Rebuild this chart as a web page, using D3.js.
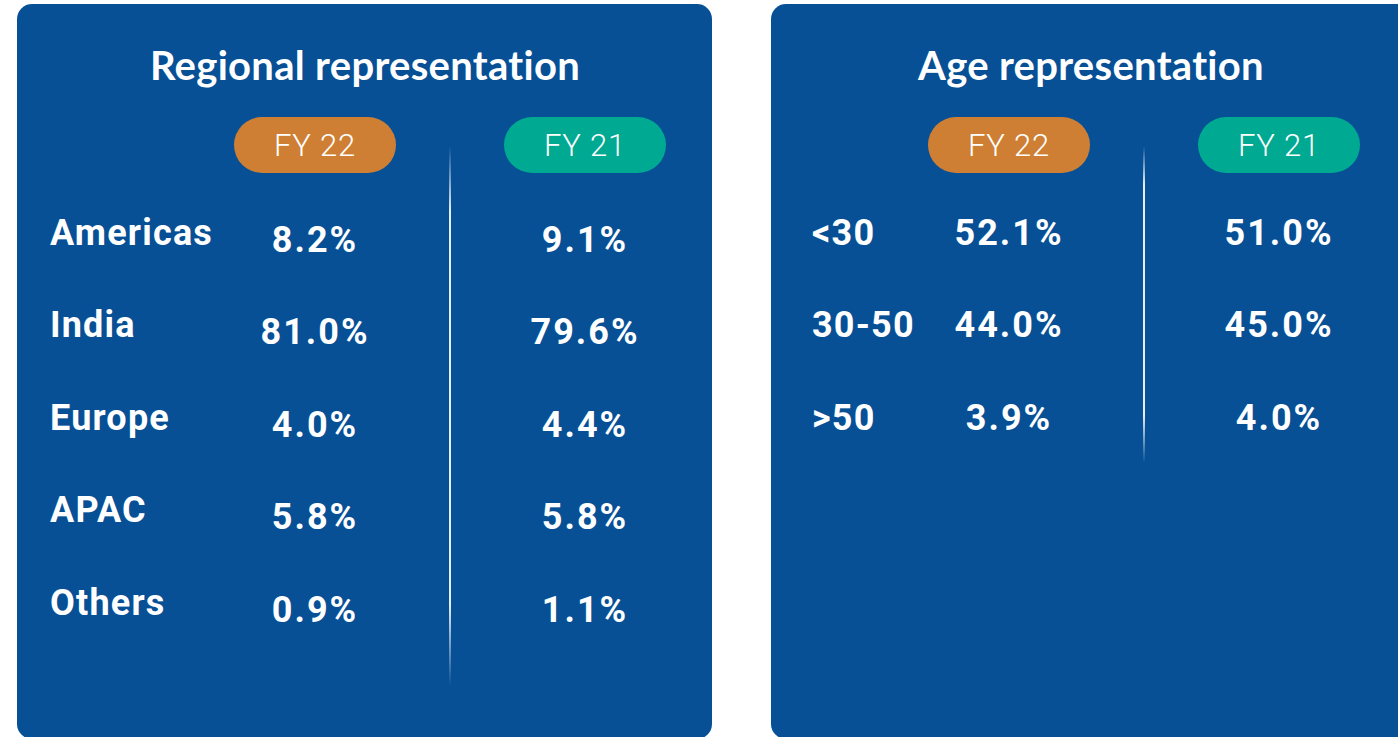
<!DOCTYPE html>
<html>
<head>
<meta charset="utf-8">
<script src="https://cdn.jsdelivr.net/npm/d3@7"></script>
<style>
  html, body { margin: 0; padding: 0; background: #fff; }
  svg { display: block; }
</style>
</head>
<body>
<svg id="chart"></svg>
<script>
// ── data ────────────────────────────────────────────────────────────────
const years = ['FY 22', 'FY 21'];

const regions    = ['Americas', 'India', 'Europe', 'APAC', 'Others'];
const regionFY22 = ['8.2%', '81.0%', '4.0%', '5.8%', '0.9%'];
const regionFY21 = ['9.1%', '79.6%', '4.4%', '5.8%', '1.1%'];

const ages    = ['<30', '30-50', '>50'];
const ageFY22 = ['52.1%', '44.0%', '3.9%'];
const ageFY21 = ['51.0%', '45.0%', '4.0%'];

const W = 1398, H = 737;
const COLORS = {
  panel: '#075096',
  pill:  { 'FY 22': '#CE7F34', 'FY 21': '#00A991' },
  text:  '#ffffff',
};
const ROW_STEP = 92.5;

const svg = d3.select('#chart').attr('width', W).attr('height', H);

// vertical divider that fades at both ends
const grad = svg.append('defs').append('linearGradient')
  .attr('id', 'divider').attr('x1', 0).attr('x2', 0).attr('y1', 0).attr('y2', 1);
grad.append('stop').attr('offset', '0%').attr('stop-color', '#fff').attr('stop-opacity', 0);
grad.append('stop').attr('offset', '12%').attr('stop-color', '#fff').attr('stop-opacity', 0.9);
grad.append('stop').attr('offset', '85%').attr('stop-color', '#fff').attr('stop-opacity', 0.9);
grad.append('stop').attr('offset', '100%').attr('stop-color', '#fff').attr('stop-opacity', 0);

function drawPanel(cfg) {
  const { x0, x1, title, labels, vals22, vals21, labelX, colX, dividerX, dividerY1, valueDy } = cfg;
  const g = svg.append('g');

  // panel bottom sits just below the viewport, so only the top of the lower corners shows
  g.append('rect')
    .attr('x', x0).attr('y', 4)
    .attr('width', x1 - x0).attr('height', 735)
    .attr('rx', 15)
    .attr('fill', COLORS.panel);

  g.append('text')
    .attr('x', (cfg.titleX)).attr('y', 80)
    .attr('text-anchor', 'middle')
    .attr('font-family', 'Lato, "Open Sans", sans-serif')
    .attr('font-weight', 700)
    .attr('font-size', 40)
    .attr('letter-spacing', 0.3)
    .attr('fill', COLORS.text)
    .text(title);

  // columns
  const x = d3.scaleOrdinal().domain(years).range(colX);
  const pillW = 162, pillH = 56;
  const pills = g.selectAll('g.pill').data(years).join('g').attr('class', 'pill')
    .attr('transform', d => `translate(${x(d)}, 145)`);
  pills.append('rect')
    .attr('x', -pillW / 2).attr('y', -pillH / 2)
    .attr('width', pillW).attr('height', pillH)
    .attr('rx', pillH / 2)
    .attr('fill', d => COLORS.pill[d]);
  pills.append('text')
    .attr('text-anchor', 'middle').attr('dy', '0.36em')
    .attr('font-family', 'Roboto, sans-serif')
    .attr('font-weight', 300)
    .attr('font-size', 31)
    .attr('letter-spacing', 0.8)
    .attr('fill', COLORS.text)
    .text(d => d);

  // divider
  g.append('rect')
    .attr('x', dividerX - 1).attr('y', 146)
    .attr('width', 2).attr('height', dividerY1 - 146)
    .attr('fill', 'url(#divider)');

  // rows
  const y = d3.scalePoint().domain(labels)
    .range([232, 232 + ROW_STEP * (labels.length - 1)]);

  g.selectAll('text.label').data(labels).join('text').attr('class', 'label')
    .attr('x', labelX).attr('y', d => y(d)).attr('dy', '0.36em')
    .attr('font-family', 'Roboto, sans-serif')
    .attr('font-weight', 700)
    .attr('font-size', 36)
    .attr('letter-spacing', 1.2)
    .attr('fill', COLORS.text)
    .text(d => d);

  const rows = labels.map((l, i) => ({ label: l, vals: [vals22[i], vals21[i]] }));
  years.forEach((yr, j) => {
    g.selectAll(`text.val${j}`).data(rows).join('text').attr('class', `val${j}`)
      .attr('x', x(yr)).attr('y', d => y(d.label) + valueDy).attr('dy', '0.36em')
      .attr('text-anchor', 'middle')
      .attr('font-family', 'Roboto, sans-serif')
      .attr('font-weight', 700)
      .attr('font-size', 36)
      .attr('letter-spacing', 2)
      .attr('fill', COLORS.text)
      .text(d => d.vals[j]);
  });
}

drawPanel({
  x0: 17, x1: 712, titleX: 365,
  title: 'Regional representation',
  labels: regions, vals22: regionFY22, vals21: regionFY21,
  labelX: 50, colX: [315, 585], dividerX: 450, dividerY1: 686, valueDy: 7,
});

drawPanel({
  x0: 771, x1: W + 30, titleX: 1091,
  title: 'Age representation',
  labels: ages, vals22: ageFY22, vals21: ageFY21,
  labelX: 812, colX: [1009, 1279], dividerX: 1144, dividerY1: 463, valueDy: 0,
});
</script>
</body>
</html>
